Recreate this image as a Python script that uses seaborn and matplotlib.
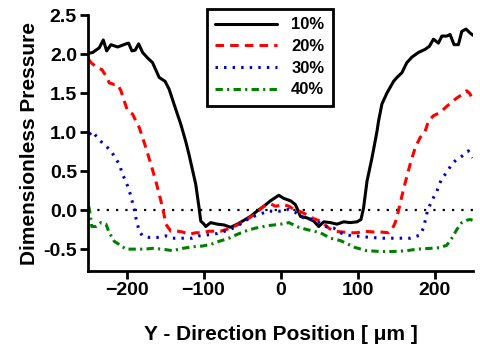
import numpy as np
import pandas as pd
import matplotlib
matplotlib.use("Agg")
import matplotlib.pyplot as plt
import seaborn as sns

x10 = [-249.1, -243.9, -235.4, -230.2, -225.8, -220.2, -211.5, -200.8, -197.3, -193.0, -188.7, -184.3,
       -179.1, -172.7, -166.2, -157.6, -149.9, -144.7, -136.0, -129.5, -123.1, -118.8, -110.1, -105.8,
       -103.6, -99.4, -97.2, -90.7, -82.0, -73.4, -64.8, -56.1, -47.5, -38.9, -30.2, -21.6, -13.0, -2.2,
       4.3, 13.0, 19.4, 25.9, 34.6, 43.1, 49.6, 56.1, 64.8, 73.4, 82.0, 90.7, 99.4, 104.5, 107.9, 112.3,
       118.8, 125.3, 127.3, 131.7, 138.2, 146.8, 151.2, 157.6, 164.1, 170.6, 179.1, 187.8, 193.4, 198.6,
       205.1, 209.5, 215.9, 220.2, 225.4, 231.0, 235.4, 240.9, 246.1, 250.0]
y10 = [2.01, 2.02, 2.08, 2.18, 2.04, 2.12, 2.09, 2.13, 2.14, 2.04, 2.05, 2.13,
       2.02, 1.95, 1.89, 1.70, 1.65, 1.55, 1.29, 1.10, 0.88, 0.71, 0.33, 0.03,
       -0.14, -0.18, -0.21, -0.16, -0.18, -0.19, -0.22, -0.18, -0.13, -0.08, -0.01, 0.05, 0.12, 0.19,
       0.15, 0.12, 0.07, -0.08, -0.10, -0.14, -0.21, -0.15, -0.16, -0.18, -0.15, -0.16, -0.15, -0.12, 0.03, 0.37,
       0.67, 1.01, 1.14, 1.36, 1.50, 1.65, 1.70, 1.76, 1.89, 1.96, 2.02, 2.06, 2.10, 2.19,
       2.14, 2.23, 2.23, 2.25, 2.12, 2.12, 2.29, 2.32, 2.27, 2.24]

x20 = [-249.1, -246.1, -237.4, -231.9, -226.7, -222.4, -215.9, -211.5, -207.3, -203.0, -198.6, -192.1,
       -187.8, -183.5, -179.1, -174.9, -168.4, -161.9, -155.4, -151.2, -149.0, -142.5, -133.8, -127.3,
       -118.8, -110.1, -101.4, -92.9, -77.7, -64.8, -56.1, -45.3, -34.6, -21.6, -13.0, -6.5, 4.3, 10.8,
       19.4, 25.9, 34.6, 43.1, 51.8, 62.6, 69.0, 79.9, 92.9, 99.4, 107.9, 120.9, 129.5, 140.3, 144.7,
       149.0, 153.2, 157.6, 161.9, 168.4, 174.9, 181.3, 187.8, 192.1, 198.6, 207.3, 215.9, 226.7, 235.4,
       241.8, 246.1, 250.0]
y20 = [1.93, 1.89, 1.82, 1.80, 1.72, 1.63, 1.61, 1.61, 1.53, 1.40, 1.27, 1.23,
       1.14, 1.06, 0.93, 0.80, 0.59, 0.37, 0.12, -0.06, -0.18, -0.27, -0.27, -0.28,
       -0.31, -0.29, -0.29, -0.27, -0.27, -0.23, -0.19, -0.13, -0.06, 0.05, 0.08, 0.05, 0.07, 0.05,
       0.00, -0.02, -0.06, -0.11, -0.14, -0.23, -0.27, -0.28, -0.29, -0.29, -0.27, -0.28, -0.28, -0.29, -0.25,
       -0.16, -0.01, 0.18, 0.35, 0.59, 0.80, 0.93, 1.01, 1.14, 1.21, 1.25, 1.33, 1.42, 1.48,
       1.53, 1.49, 1.40]

x30 = [-248.3, -243.9, -239.6, -233.2, -224.5, -220.2, -215.9, -209.5, -205.1, -198.6, -194.3, -190.0,
       -187.8, -183.5, -179.1, -170.6, -159.7, -149.0, -140.3, -131.7, -123.1, -114.4, -105.8, -97.2,
       -82.0, -69.0, -56.1, -47.5, -34.6, -25.9, -15.2, -6.5, 2.2, 10.8, 19.4, 30.2, 43.1, 54.0, 62.6,
       69.0, 77.7, 86.4, 97.2, 116.6, 133.8, 151.2, 168.4, 181.3, 185.6, 187.8, 190.8, 194.3, 198.6,
       203.0, 209.5, 215.9, 222.4, 228.9, 235.4, 243.9, 249.6]
y30 = [0.97, 1.01, 0.95, 0.88, 0.80, 0.76, 0.69, 0.59, 0.46, 0.31, 0.18, 0.01,
       -0.10, -0.27, -0.33, -0.35, -0.35, -0.33, -0.36, -0.36, -0.36, -0.36, -0.33, -0.32,
       -0.30, -0.26, -0.21, -0.14, -0.08, -0.05, -0.01, -0.02, -0.01, 0.01, -0.03, -0.10, -0.12, -0.18, -0.23,
       -0.23, -0.29, -0.32, -0.33, -0.35, -0.36, -0.36, -0.36, -0.32, -0.23, -0.14, -0.01, 0.07, 0.16,
       0.24, 0.41, 0.48, 0.59, 0.65, 0.69, 0.76, 0.67]

x40 = [-249.1, -247.0, -245.2, -239.6, -233.2, -226.7, -222.4, -215.9, -209.5, -200.8, -190.0, -177.1,
       -166.2, -153.2, -140.3, -127.3, -114.4, -101.4, -90.7, -79.9, -67.0, -56.1, -43.1, -32.4, -17.2,
       0.0, 10.8, 23.7, 34.6, 51.8, 64.8, 77.7, 97.2, 112.3, 129.5, 146.8, 164.1, 177.1, 194.3, 207.3,
       215.9, 222.4, 228.9, 235.4, 241.8, 246.1, 249.4]
y40 = [0.05, -0.06, -0.21, -0.21, -0.16, -0.18, -0.29, -0.40, -0.44, -0.50, -0.50, -0.50,
       -0.49, -0.50, -0.52, -0.49, -0.47, -0.46, -0.44, -0.40, -0.36, -0.31, -0.26, -0.23, -0.20,
       -0.18, -0.16, -0.22, -0.25, -0.29, -0.36, -0.39, -0.48, -0.52, -0.53, -0.53, -0.52, -0.50, -0.49, -0.48,
       -0.45, -0.36, -0.25, -0.16, -0.13, -0.12, -0.13]

labels = ["10%", "20%", "30%", "40%"]
xticks = [-200, -100, 0, 100, 200]
yticks = [-0.5, 0.0, 0.5, 1.0, 1.5, 2.0, 2.5]

sns.set_style("ticks")
plt.rcParams["font.family"] = ["Liberation Sans", "DejaVu Sans"]
plt.rcParams["font.weight"] = "bold"
plt.rcParams["text.color"] = "black"
plt.rcParams["axes.labelcolor"] = "black"

fig = plt.figure(figsize=(4.81, 3.49), dpi=100)
ax = fig.add_axes([0.183, 0.2235, 0.8004, 0.7335])

series = [(x10, y10, "black", "-"), (x20, y20, "#ff0000", (0, (2.8, 2.0))),
          (x30, y30, "#0000cc", (0, (0.8, 2.0))), (x40, y40, "#008000", (0, (2.4, 1.4, 0.7, 1.4)))]
lw = 2.2
for (xs, ys, c, ls), lab in zip(series, labels):
    df = pd.DataFrame({"x": xs, "y": ys})
    sns.lineplot(data=df, x="x", y="y", ax=ax, color=c, lw=lw, label=lab, sort=False)
    ax.lines[-1].set_linestyle(ls)

ax.axhline(0, color="black", lw=1.6, ls=(0, (1, 3.2)), zorder=1)

ax.set_xlim(-250, 250)
ax.set_ylim(-0.78, 2.5)
ax.set_xticks(xticks)
ax.set_yticks(yticks)
ax.set_yticklabels([f"{v:.1f}" for v in yticks])
for s in ["top", "right"]:
    ax.spines[s].set_visible(False)
for s in ["left", "bottom"]:
    ax.spines[s].set_linewidth(2.0)
    ax.spines[s].set_color("black")
ax.tick_params(axis="both", width=2.0, length=6, labelsize=14, colors="black", pad=2)
for t in ax.get_xticklabels() + ax.get_yticklabels():
    t.set_fontweight("bold")

ax.set_xlabel("Y - Direction Position [ μm ]", fontsize=15, fontweight="bold", labelpad=19, color="black")
ax.set_ylabel("Dimensionless Pressure", fontsize=15, fontweight="bold", labelpad=3, color="black")

leg = ax.legend(loc="upper left", bbox_to_anchor=(0.309, 1.023), borderaxespad=0,
                prop={"weight": "bold", "size": 12}, handlelength=3.7, handletextpad=0.85,
                labelspacing=0.4, borderpad=0.5, fancybox=False, framealpha=1)
leg.get_frame().set_edgecolor("black")
leg.get_frame().set_linewidth(2.0)
for t in leg.get_texts():
    t.set_color("black")

fig.savefig("out.png", dpi=100)
